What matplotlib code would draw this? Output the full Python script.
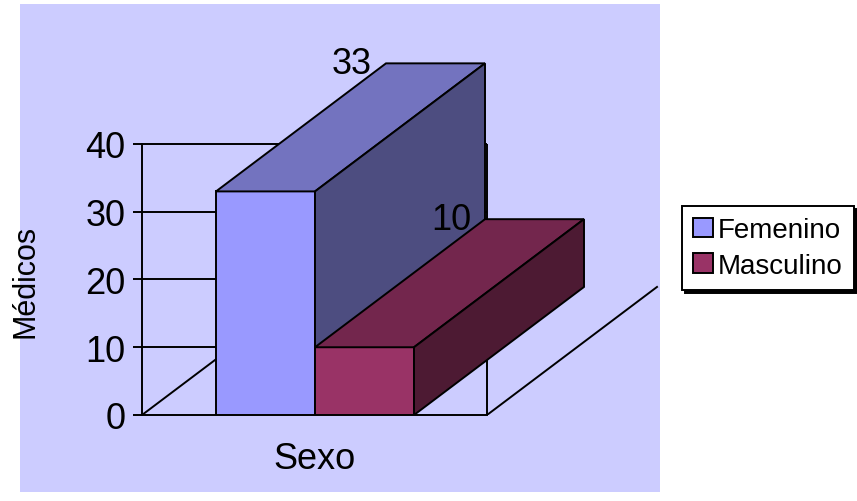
import matplotlib
matplotlib.use("Agg")
import matplotlib.pyplot as plt
from matplotlib.patches import Polygon, Rectangle, Patch

# data
series = ["Femenino", "Masculino"]
medicos = [33, 10]
yticks = [0, 10, 20, 30, 40]
xlabel = "Sexo"
ylabel = "Médicos"

# colours: front, top, side face of each box
front_colors = ["#9999FF", "#993366"]
top_colors = ["#7373BF", "#73264D"]
side_colors = ["#4D4D80", "#4D1A33"]

plt.rcParams["font.family"] = ["Liberation Sans", "DejaVu Sans"]

# 3d box layout in axis units
wall_w = 3.45       # width of the front wall
bar_x0 = 0.74       # where the first box starts
bar_w = 0.99        # width of one box
depth_dx = 1.70     # receding offset, x
depth_dy = 18.9     # receding offset, y (value units)

W, H, DPI = 857, 502, 100
fig = plt.figure(figsize=(W / DPI, H / DPI), dpi=DPI)

# lavender chart area
fig.patches.append(Rectangle((20 / W, 9 / H), 640 / W, 488 / H,
                             transform=fig.transFigure, facecolor="#CCCCFF",
                             edgecolor="none", zorder=0))

ax = fig.add_axes([142 / W, 86 / H, 518 / W, 411 / H], zorder=2)
ax.set_facecolor("none")
ax.set_xlim(0, 5.18)
ax.set_ylim(0, 60.66)

lw = 1.4
ec = "black"

# wall grid, wall edge and floor
ax.hlines(yticks[1:], 0, wall_w, color=ec, lw=lw, zorder=1)
ax.vlines(wall_w, 0, yticks[-1], color=ec, lw=lw, zorder=1)
ax.plot([0, wall_w], [0, 0], color=ec, lw=lw, zorder=1, clip_on=False)
for x in (0, wall_w):
    ax.plot([x, x + depth_dx], [0, depth_dy], color=ec, lw=lw, zorder=1)

# boxes
for i, (name, v) in enumerate(zip(series, medicos)):
    x0 = bar_x0 + i * bar_w
    x1 = x0 + bar_w
    front = [(x0, 0), (x1, 0), (x1, v), (x0, v)]
    top = [(x0, v), (x1, v), (x1 + depth_dx, v + depth_dy), (x0 + depth_dx, v + depth_dy)]
    side = [(x1, 0), (x1 + depth_dx, depth_dy), (x1 + depth_dx, v + depth_dy), (x1, v)]
    z = 2 + i
    for pts, fc in ((front, front_colors[i]), (top, top_colors[i]), (side, side_colors[i])):
        ax.add_patch(Polygon(pts, closed=True, facecolor=fc, edgecolor=ec,
                             lw=lw, joinstyle="miter", zorder=z))
    ax.annotate(str(v), (x0 + depth_dx, v + depth_dy), xytext=(-10, 0),
                textcoords="offset points", ha="right", va="center",
                fontsize=26, zorder=5)

# value axis
for s in ("top", "right", "bottom"):
    ax.spines[s].set_visible(False)
ax.spines["left"].set_bounds(0, yticks[-1])
ax.spines["left"].set_linewidth(lw)
ax.set_yticks(yticks)
ax.tick_params(axis="y", direction="out", length=6.5, width=lw, pad=5.5,
               labelsize=26)
ax.set_xticks([])

fig.text(315 / W, (H - 469) / H, xlabel, ha="center", va="baseline", fontsize=26)
fig.text(25 / W, (H - 281) / H, ylabel, ha="center", va="center",
         rotation=90, fontsize=22)

handles = [Patch(facecolor=c, edgecolor=ec, lw=lw) for c in front_colors]
leg = fig.legend(handles, series, loc="upper left",
                 bbox_to_anchor=(682 / W, 1 - 207 / H), fontsize=20,
                 frameon=True, fancybox=False, framealpha=1,
                 edgecolor=ec, facecolor="white",
                 shadow={"color": "black", "alpha": 1},
                 handlelength=0.7, handleheight=0.7, handletextpad=0.2,
                 borderpad=0.4, labelspacing=0.35, borderaxespad=0)
leg.get_frame().set_linewidth(lw)

fig.savefig("out.png", dpi=DPI)
